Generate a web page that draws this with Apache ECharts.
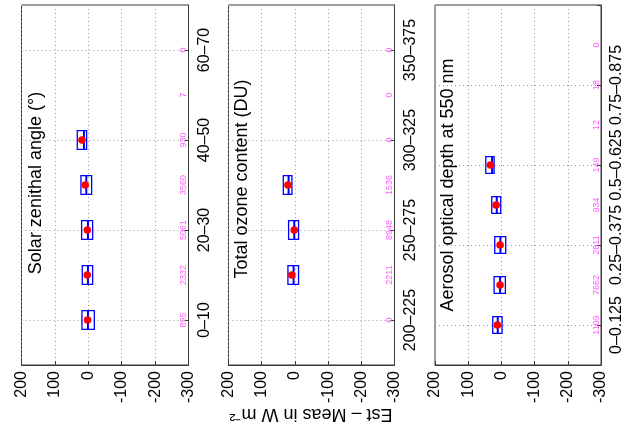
<!DOCTYPE html>
<html>
<head>
<meta charset="utf-8">
<script src="https://cdn.jsdelivr.net/npm/echarts@6/dist/echarts.min.js"></script>
<style>html,body{margin:0;padding:0;background:#fff;}#c{width:637px;height:445px;}</style>
</head>
<body>
<div id="c"></div>
<script>
// ---- Data ----
const szaCategories = ['0–10','10–20','20–30','30–40','40–50','50–60','60–70'];
const szaCounts     = [895, 2332, 5061, 3560, 930, 7, 0];
const szaQ1         = [-18, -13, -13, -10, 5, null, null];
const szaMedian     = [1, 1, 1, 6, 13, null, null];
const szaQ3         = [19, 18, 20, 22, 33, null, null];
const szaMean       = [2, 3, 3, 9, 19, null, null];

const ozoneCategories = ['200–225','225–250','250–275','275–300','300–325','325–350','350–375'];
const ozoneCounts     = [0, 2211, 8948, 1536, 0, 0, 0];
const ozoneQ1         = [null, -11, -11, 9, null, null, null];
const ozoneMedian     = [null, 4, 2, 19, null, null, null];
const ozoneQ3         = [null, 21, 19, 35, null, null, null];
const ozoneMean       = [null, 9, 2, 21, null, null, null];

const aodCategories = ['0–0.125','0.125–0.25','0.25–0.375','0.375–0.5','0.5–0.625','0.625–0.75','0.75–0.875','0.875–1'];
const aodCounts     = [1109, 7662, 2811, 934, 149, 12, 18, 0];
const aodQ1         = [-2, -12, -13, 2, 22, null, null, null];
const aodMedian     = [11, 4, 3, 14, 28, null, null, null];
const aodQ3         = [26, 22, 20, 29, 47, null, null, null];
const aodMean       = [12, 4, 4, 16, 33, null, null, null];

const valueMin = -300, valueMax = 200, valueStep = 100;
const panelTitles = ['Solar zenithal angle (°)', 'Total ozone content (DU)', 'Aerosol optical depth at 550 nm'];
const yLabelText = 'Est – Meas in W m⁻²';

// ---- Layout / style ----
const COUNT_POS = -286;
const FONT = 'Liberation Sans, Arial, Helvetica, sans-serif';
const panels = [
  {cats: szaCategories, counts: szaCounts, q1: szaQ1, med: szaMedian, q3: szaQ3, mean: szaMean, left: 21.5, width: 167, title: [36, 183]},
  {cats: ozoneCategories, counts: ozoneCounts, q1: ozoneQ1, med: ozoneMedian, q3: ozoneQ3, mean: ozoneMean, left: 228.5, width: 166, title: [242, 179]},
  {cats: aodCategories, counts: aodCounts, q1: aodQ1, med: aodMedian, q3: aodQ3, mean: aodMean, left: 435, width: 166, title: [448, 185]}
];
const oddOnly = function (index) { return index % 2 === 1; };
const frameColor = '#3a3a3a';

const grids = [], xAxes = [], yAxes = [], series = [], graphics = [];
panels.forEach(function (p, k) {
  grids.push({left: p.left, top: 5, width: p.width, height: 360, show: true, borderColor: frameColor, borderWidth: 1, backgroundColor: '#fff'});
  xAxes.push({
    type: 'value', gridIndex: k, min: valueMin, max: valueMax, interval: valueStep, inverse: true, position: 'bottom',
    axisLine: {show: true, onZero: false, lineStyle: {color: frameColor, width: 1}},
    axisTick: {show: true, inside: true, length: 4, lineStyle: {color: frameColor}},
    axisLabel: {rotate: 90, fontSize: 16, color: '#000', fontFamily: FONT, margin: 6},
    splitLine: {show: true, lineStyle: {type: [1, 3], color: '#9a9a9a', width: 1}}
  });
  const padded = [''].concat(p.cats, ['']);
  yAxes.push({
    type: 'category', gridIndex: k, position: 'right', boundaryGap: false, data: padded,
    axisLine: {show: true, onZero: false, lineStyle: {color: frameColor, width: 1}},
    axisTick: {show: true, inside: true, length: 4, interval: oddOnly, lineStyle: {color: frameColor}},
    axisLabel: {rotate: 90, interval: oddOnly, fontSize: 16, color: '#000', fontFamily: FONT, margin: 8},
    splitLine: {show: true, interval: oddOnly, lineStyle: {type: [1, 3], color: '#9a9a9a', width: 1}}
  });
  const boxData = [];
  p.cats.forEach(function (c, i) {
    if (p.q1[i] !== null) boxData.push([p.q1[i], p.med[i], p.q3[i], p.mean[i], i + 1]);
  });
  series.push({
    type: 'custom', xAxisIndex: k, yAxisIndex: k, data: boxData,
    encode: {x: [0, 1, 2, 3], y: 4},
    renderItem: function (params, api) {
      const ci = api.value(4);
      const a = api.coord([api.value(0), ci]);
      const m = api.coord([api.value(1), ci]);
      const b = api.coord([api.value(2), ci]);
      const mu = api.coord([api.value(3), ci]);
      const unit = Math.abs(api.coord([0, 1])[1] - api.coord([0, 2])[1]);
      const h = unit * 0.42;
      const x0 = Math.min(a[0], b[0]), w = Math.abs(b[0] - a[0]);
      return {type: 'group', children: [
        {type: 'rect', shape: {x: x0, y: a[1] - h / 2, width: w, height: h}, style: {fill: 'none', stroke: '#0000ff', lineWidth: 1.3}},
        {type: 'line', shape: {x1: m[0], y1: a[1] - h / 2, x2: m[0], y2: a[1] + h / 2}, style: {stroke: '#0000ff', lineWidth: 2}},
        {type: 'circle', shape: {cx: mu[0], cy: mu[1], r: 3.8}, style: {fill: '#ff0000'}}
      ]};
    },
    z: 5
  });
  series.push({
    type: 'scatter', xAxisIndex: k, yAxisIndex: k, symbolSize: 1, itemStyle: {color: 'rgba(0,0,0,0)'},
    data: p.counts.map(function (c, i) { return [COUNT_POS, i + 1, c]; }),
    label: {show: true, position: 'inside', rotate: 90, fontSize: 9, color: '#ff33ff', fontFamily: FONT,
      formatter: function (q) { return String(q.value[2]); }},
    silent: true, z: 4
  });
  graphics.push({
    type: 'text', x: p.title[0], y: p.title[1], rotation: Math.PI / 2, z: 10,
    style: {text: panelTitles[k], fontSize: 18, fontFamily: FONT, fill: '#000', textAlign: 'center', textVerticalAlign: 'middle'}
  });
});
graphics.push({
  type: 'text', x: 311, y: 414, rotation: Math.PI, z: 10,
  style: {text: yLabelText, fontSize: 18, fontFamily: FONT, fill: '#000', textAlign: 'center', textVerticalAlign: 'middle'}
});

const chart = echarts.init(document.getElementById('c'), null, {renderer: 'canvas'});
chart.setOption({
  animation: false,
  backgroundColor: '#fff',
  grid: grids, xAxis: xAxes, yAxis: yAxes, series: series, graphic: graphics
});
</script>
</body>
</html>
